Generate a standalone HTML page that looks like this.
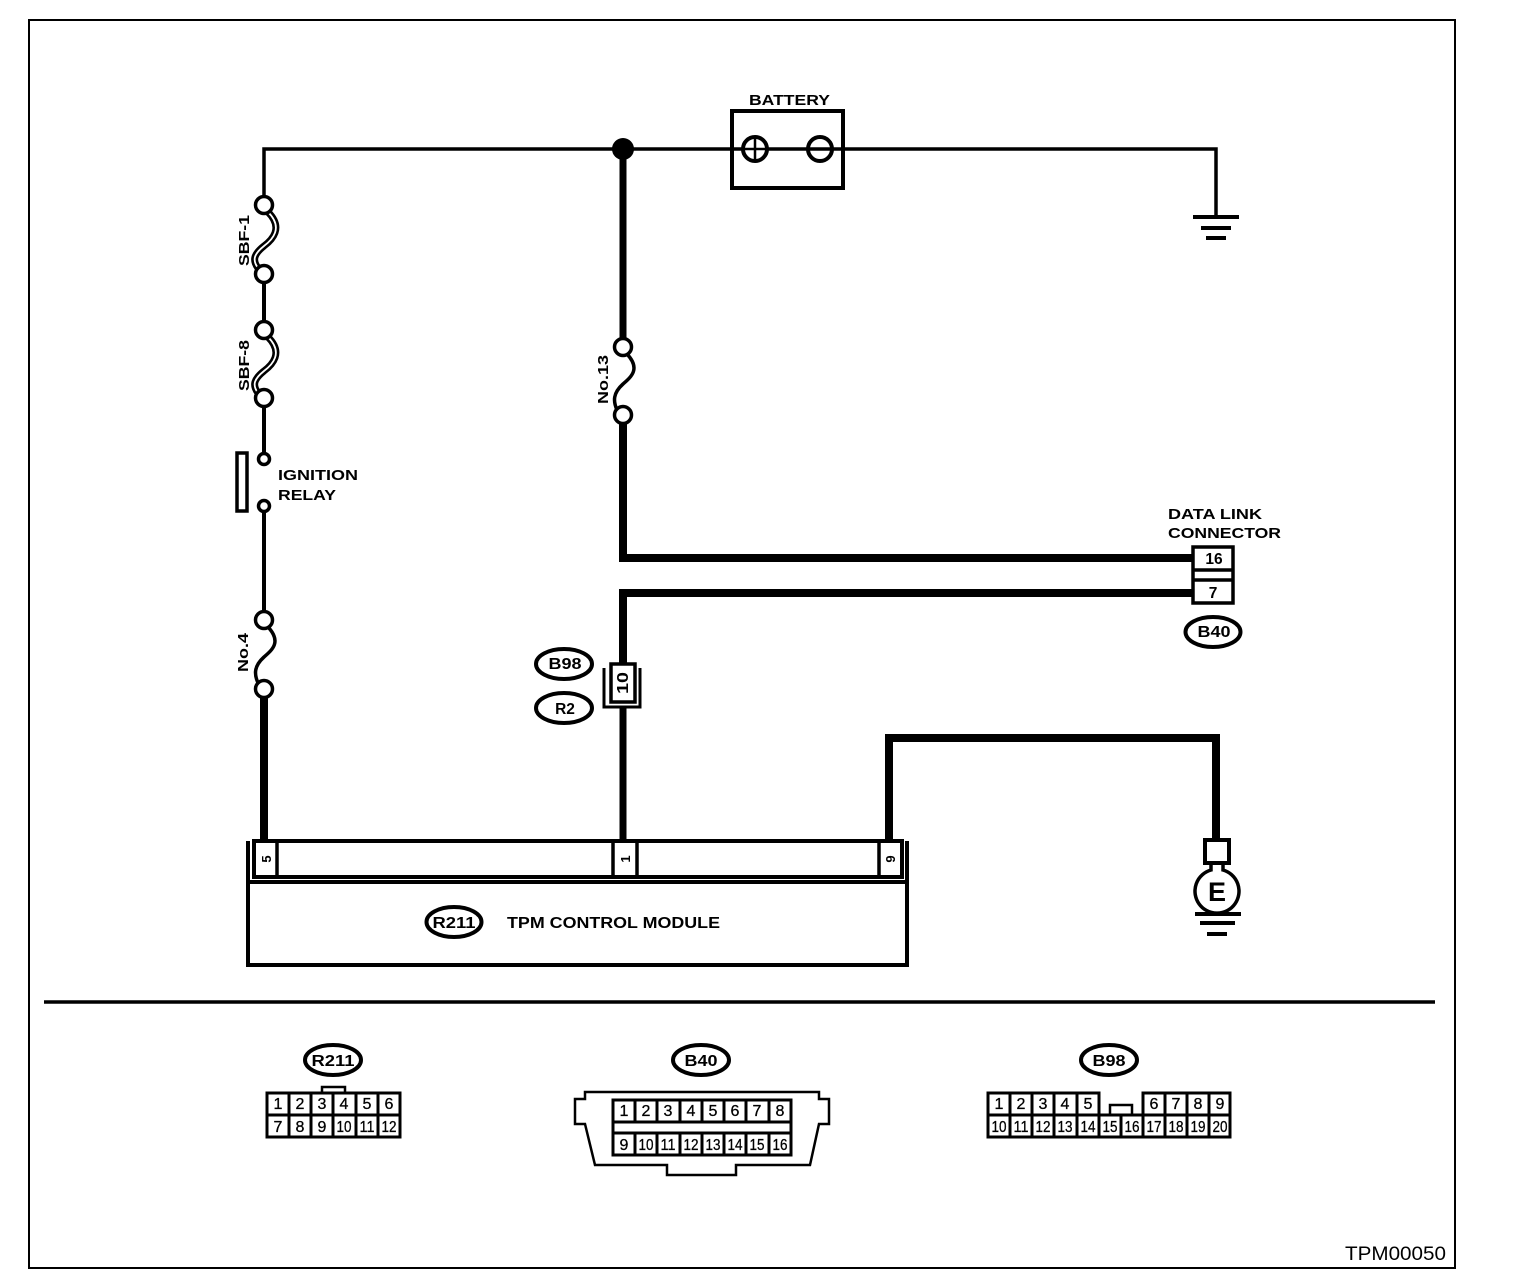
<!DOCTYPE html>
<html>
<head>
<meta charset="utf-8">
<style>
html,body{margin:0;padding:0;background:#fff;width:1536px;height:1278px;overflow:hidden}
svg{display:block}
text{font-family:"Liberation Sans",sans-serif;font-weight:bold;fill:#000;stroke:none}
.n{font-weight:normal;font-size:16px;text-anchor:middle;stroke:#000;stroke-width:.3px}
.b{font-size:15.5px;text-anchor:middle}
.g{fill:none;stroke:#000}
.c{fill:#fff;stroke:#000;stroke-width:3.5px}
</style>
</head>
<body>
<svg width="1536" height="1278" viewBox="0 0 1536 1278" xmlns="http://www.w3.org/2000/svg">
<rect width="1536" height="1278" fill="#fff"/>
<rect class="g" x="29" y="20" width="1426" height="1248" stroke-width="2"/>

<!-- wires -->
<g class="g">
<path d="M264 197V149H732M844 149H1216V217" stroke-width="3.5"/>
<path d="M732 149H820" stroke-width="3.5"/>
<path d="M264 282V322M264 406V453M264 512V612" stroke-width="4"/>
<path d="M623 149V340" stroke-width="7"/>
<path d="M623 423V558H1192" stroke-width="8"/>
<path d="M1192 593H623V664" stroke-width="8"/>
<path d="M623 706V840" stroke-width="7"/>
<path d="M264 697V840" stroke-width="8"/>
<path d="M889 840V738H1216V840" stroke-width="8"/>
</g>
<circle cx="623" cy="149" r="11" fill="#000"/>

<!-- battery -->
<rect class="g" x="732" y="111" width="111" height="77" stroke-width="4"/>
<circle cx="755" cy="149" r="12" fill="#fff" stroke="#000" stroke-width="4"/>
<path d="M743 149H767M755 137V161" stroke="#000" stroke-width="2.5"/>
<circle cx="820" cy="149" r="12" fill="#fff" stroke="#000" stroke-width="4"/>
<path d="M808 149H844" stroke="#000" stroke-width="3.5"/>
<text x="749" y="105" font-size="15" textLength="81" lengthAdjust="spacingAndGlyphs">BATTERY</text>

<!-- top ground -->
<path d="M1193 217H1239M1201 228H1231M1206 238H1226" stroke="#000" stroke-width="4"/>

<!-- SBF-1 -->
<path class="g" d="M268 212C284 228 272 240 264 246C254 254 252 260 258 268" stroke-width="7"/>
<path d="M268 212C284 228 272 240 264 246C254 254 252 260 258 268" fill="none" stroke="#fff" stroke-width="1.8"/>
<circle class="c" cx="264" cy="205" r="8.5"/>
<circle class="c" cx="264" cy="274" r="8.5"/>
<text transform="translate(249,266) rotate(-90)" font-size="15" textLength="51" lengthAdjust="spacingAndGlyphs">SBF-1</text>

<!-- SBF-8 -->
<path class="g" d="M268 337C284 353 272 365 264 371C254 379 252 385 258 393" stroke-width="7"/>
<path d="M268 337C284 353 272 365 264 371C254 379 252 385 258 393" fill="none" stroke="#fff" stroke-width="1.8"/>
<circle class="c" cx="264" cy="330" r="8.5"/>
<circle class="c" cx="264" cy="398" r="8.5"/>
<text transform="translate(249,391) rotate(-90)" font-size="15" textLength="51" lengthAdjust="spacingAndGlyphs">SBF-8</text>

<!-- relay -->
<rect class="g" x="237" y="453" width="10" height="58" stroke-width="3.5"/>
<circle class="c" cx="264" cy="459" r="5.5"/>
<circle class="c" cx="264" cy="506" r="5.5"/>
<text x="278" y="480" font-size="15" textLength="80" lengthAdjust="spacingAndGlyphs">IGNITION</text>
<text x="278" y="500" font-size="15" textLength="58" lengthAdjust="spacingAndGlyphs">RELAY</text>

<!-- No.4 -->
<path class="g" d="M268 627C282 642 272 650 264 657C254 666 254 674 258 683" stroke-width="3.5"/>
<circle class="c" cx="264" cy="620" r="8.5"/>
<circle class="c" cx="264" cy="689" r="8.5"/>
<text transform="translate(248,672) rotate(-90)" font-size="15" textLength="39" lengthAdjust="spacingAndGlyphs">No.4</text>

<!-- No.13 -->
<path class="g" d="M627 354C641 369 631 377 623 384C613 393 613 401 617 410" stroke-width="3.5"/>
<circle class="c" cx="623" cy="347" r="8.5"/>
<circle class="c" cx="623" cy="415" r="8.5"/>
<text transform="translate(608,404) rotate(-90)" font-size="15" textLength="49" lengthAdjust="spacingAndGlyphs">No.13</text>

<!-- DLC -->
<text x="1168" y="519" font-size="15" textLength="94" lengthAdjust="spacingAndGlyphs">DATA LINK</text>
<text x="1168" y="538" font-size="15" textLength="113" lengthAdjust="spacingAndGlyphs">CONNECTOR</text>
<rect class="g" x="1193" y="547" width="40" height="56" fill="#fff" stroke-width="3.5"/>
<path d="M1193 570H1233M1193 580H1233" stroke="#000" stroke-width="3.5"/>
<text x="1214" y="564" class="b">16</text>
<text x="1213" y="598" class="b">7</text>
<ellipse class="g" cx="1213" cy="632" rx="27.5" ry="15" stroke-width="4"/>
<text x="1214" y="637" class="b" textLength="33" lengthAdjust="spacingAndGlyphs">B40</text>

<!-- B98 R2 junction -->
<path class="g" d="M604 668V707H640V668" stroke-width="3"/>
<rect x="611" y="664" width="24" height="38" fill="#fff" stroke="#000" stroke-width="3.5"/>
<text transform="translate(628,683) rotate(-90)" class="b" textLength="22" lengthAdjust="spacingAndGlyphs">10</text>
<ellipse class="g" cx="564" cy="664" rx="28" ry="15" stroke-width="4"/>
<text x="565" y="669" class="b" textLength="33" lengthAdjust="spacingAndGlyphs">B98</text>
<ellipse class="g" cx="564" cy="708" rx="28" ry="15" stroke-width="4"/>
<text x="565" y="714" class="b">R2</text>

<!-- control module -->
<path class="g" d="M248 841V965H907V841" stroke-width="4"/>
<path d="M248 882H907" stroke="#000" stroke-width="4"/>
<rect class="g" x="254" y="841" width="648" height="36" stroke-width="4"/>
<path d="M277 841V877M613 841V877M637 841V877M879 841V877" stroke="#000" stroke-width="3.5"/>
<text transform="translate(271,859) rotate(-90)" class="b" style="font-size:13px">5</text>
<text transform="translate(630,859) rotate(-90)" class="b" style="font-size:13px">1</text>
<text transform="translate(895,859) rotate(-90)" class="b" style="font-size:13px">9</text>
<ellipse class="g" cx="454" cy="922" rx="27.5" ry="15" stroke-width="4"/>
<text x="454" y="928" class="b" textLength="43" lengthAdjust="spacingAndGlyphs">R211</text>
<text x="507" y="928" font-size="15.5" textLength="213" lengthAdjust="spacingAndGlyphs">TPM CONTROL MODULE</text>

<!-- E ground -->
<rect class="g" x="1205" y="840" width="24" height="23" stroke-width="4"/>
<path class="g" d="M1211 864V870A22 22 0 1 0 1223 870V864" stroke-width="3.5"/>
<text x="1217" y="901" font-size="27" text-anchor="middle">E</text>
<path d="M1195 914H1241M1200 923H1235M1207 934H1227" stroke="#000" stroke-width="4"/>

<!-- separator -->
<path d="M44 1002H1435" stroke="#000" stroke-width="3.5"/>

<!-- R211 connector -->
<ellipse class="g" cx="333" cy="1060" rx="28" ry="15" stroke-width="4"/>
<text x="333" y="1066" class="b" textLength="43" lengthAdjust="spacingAndGlyphs">R211</text>
<path class="g" d="M322 1093V1087H345V1093" stroke-width="2.5"/>
<rect class="g" x="267" y="1093" width="133" height="44" stroke-width="3"/>
<path d="M267 1115H400M289 1093V1137M311 1093V1137M333 1093V1137M356 1093V1137M378 1093V1137" stroke="#000" stroke-width="3"/>
<text class="n" x="278" y="1109">1</text><text class="n" x="300" y="1109">2</text><text class="n" x="322" y="1109">3</text><text class="n" x="344" y="1109">4</text><text class="n" x="367" y="1109">5</text><text class="n" x="389" y="1109">6</text>
<text class="n" x="278" y="1132">7</text><text class="n" x="300" y="1132">8</text><text class="n" x="322" y="1132">9</text><text class="n" x="344" y="1132" textLength="15" lengthAdjust="spacingAndGlyphs">10</text><text class="n" x="367" y="1132" textLength="15" lengthAdjust="spacingAndGlyphs">11</text><text class="n" x="389" y="1132" textLength="15" lengthAdjust="spacingAndGlyphs">12</text>

<!-- B40 connector -->
<ellipse class="g" cx="701" cy="1060" rx="28" ry="15" stroke-width="4"/>
<text x="701" y="1066" class="b" textLength="33" lengthAdjust="spacingAndGlyphs">B40</text>
<path class="g" d="M585 1099V1092H819V1099H829V1124H819L810 1165H736V1175H667V1165H595L585 1124H575V1099Z" stroke-width="2.5"/>
<rect class="g" x="613" y="1100" width="178" height="55" stroke-width="3"/>
<path d="M613 1122H791M613 1133H791" stroke="#000" stroke-width="3"/>
<path d="M635 1100V1122M657 1100V1122M680 1100V1122M702 1100V1122M724 1100V1122M746 1100V1122M769 1100V1122M635 1133V1155M657 1133V1155M680 1133V1155M702 1133V1155M724 1133V1155M746 1133V1155M769 1133V1155" stroke="#000" stroke-width="3"/>
<text class="n" x="624" y="1116">1</text><text class="n" x="646" y="1116">2</text><text class="n" x="668" y="1116">3</text><text class="n" x="691" y="1116">4</text><text class="n" x="713" y="1116">5</text><text class="n" x="735" y="1116">6</text><text class="n" x="757" y="1116">7</text><text class="n" x="780" y="1116">8</text>
<text class="n" x="624" y="1150">9</text><text class="n" x="646" y="1150" textLength="15" lengthAdjust="spacingAndGlyphs">10</text><text class="n" x="668" y="1150" textLength="15" lengthAdjust="spacingAndGlyphs">11</text><text class="n" x="691" y="1150" textLength="15" lengthAdjust="spacingAndGlyphs">12</text><text class="n" x="713" y="1150" textLength="15" lengthAdjust="spacingAndGlyphs">13</text><text class="n" x="735" y="1150" textLength="15" lengthAdjust="spacingAndGlyphs">14</text><text class="n" x="757" y="1150" textLength="15" lengthAdjust="spacingAndGlyphs">15</text><text class="n" x="780" y="1150" textLength="15" lengthAdjust="spacingAndGlyphs">16</text>

<!-- B98 connector -->
<ellipse class="g" cx="1109" cy="1060" rx="28" ry="15" stroke-width="4"/>
<text x="1109" y="1066" class="b" textLength="33" lengthAdjust="spacingAndGlyphs">B98</text>
<path class="g" d="M988 1115V1093H1099V1115M1143 1115V1093H1230V1115M988 1115H1230V1137H988Z" stroke-width="3"/>
<path class="g" d="M1110 1115V1105H1132V1115" stroke-width="2.5"/>
<path d="M1010 1093V1137M1032 1093V1137M1054 1093V1137M1077 1093V1137M1099 1093V1137M1121 1115V1137M1143 1093V1137M1165 1093V1137M1187 1093V1137M1209 1093V1137" stroke="#000" stroke-width="3"/>
<text class="n" x="999" y="1109">1</text><text class="n" x="1021" y="1109">2</text><text class="n" x="1043" y="1109">3</text><text class="n" x="1065" y="1109">4</text><text class="n" x="1088" y="1109">5</text><text class="n" x="1154" y="1109">6</text><text class="n" x="1176" y="1109">7</text><text class="n" x="1198" y="1109">8</text><text class="n" x="1220" y="1109">9</text>
<text class="n" x="999" y="1132" textLength="15" lengthAdjust="spacingAndGlyphs">10</text><text class="n" x="1021" y="1132" textLength="15" lengthAdjust="spacingAndGlyphs">11</text><text class="n" x="1043" y="1132" textLength="15" lengthAdjust="spacingAndGlyphs">12</text><text class="n" x="1065" y="1132" textLength="15" lengthAdjust="spacingAndGlyphs">13</text><text class="n" x="1088" y="1132" textLength="15" lengthAdjust="spacingAndGlyphs">14</text><text class="n" x="1110" y="1132" textLength="15" lengthAdjust="spacingAndGlyphs">15</text><text class="n" x="1132" y="1132" textLength="15" lengthAdjust="spacingAndGlyphs">16</text><text class="n" x="1154" y="1132" textLength="15" lengthAdjust="spacingAndGlyphs">17</text><text class="n" x="1176" y="1132" textLength="15" lengthAdjust="spacingAndGlyphs">18</text><text class="n" x="1198" y="1132" textLength="15" lengthAdjust="spacingAndGlyphs">19</text><text class="n" x="1220" y="1132" textLength="15" lengthAdjust="spacingAndGlyphs">20</text>

<text x="1345" y="1260" font-size="19" style="font-weight:normal" textLength="101" lengthAdjust="spacingAndGlyphs">TPM00050</text>
</svg>
</body>
</html>
